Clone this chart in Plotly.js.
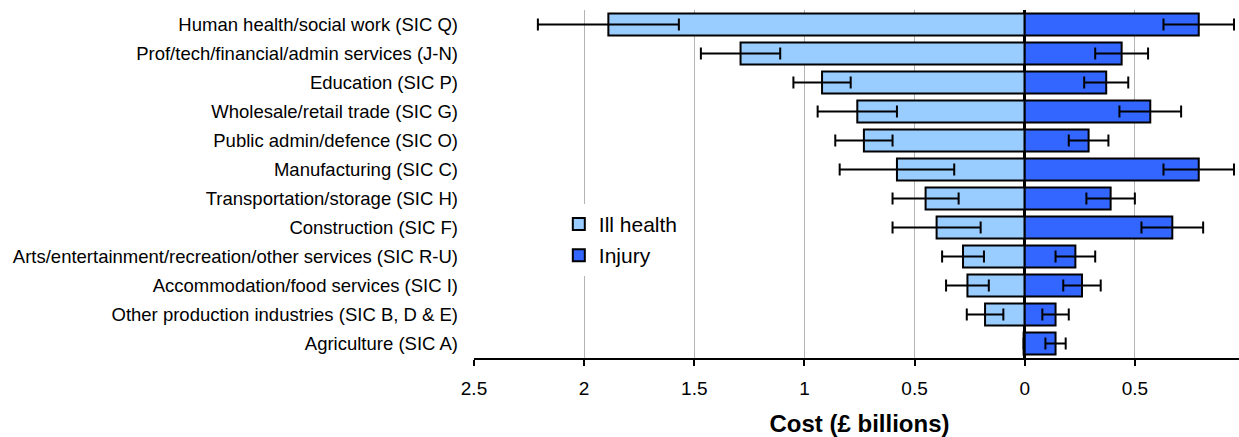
<!DOCTYPE html>
<html>
<head>
<meta charset="utf-8">
<script src="https://cdn.plot.ly/plotly-3.0.1.min.js"></script>
<style>
  html, body { margin: 0; padding: 0; background: #fff; overflow: hidden; }
  #chart { width: 1250px; height: 437px; }
</style>
</head>
<body>
<div id="chart"></div>
<script>
// Sectors, top to bottom
const categories = [
  "Human health/social work (SIC Q)",
  "Prof/tech/financial/admin services (J-N)",
  "Education (SIC P)",
  "Wholesale/retail trade (SIC G)",
  "Public admin/defence (SIC O)",
  "Manufacturing (SIC C)",
  "Transportation/storage (SIC H)",
  "Construction (SIC F)",
  "Arts/entertainment/recreation/other services (SIC R-U)",
  "Accommodation/food services (SIC I)",
  "Other production industries (SIC B, D & E)",
  "Agriculture (SIC A)"
];

// Cost of ill health (£ billions) and 95% interval half-widths
const illHealth    = [1.89, 1.29, 0.92, 0.76, 0.73, 0.58, 0.45, 0.40, 0.28, 0.26, 0.18, 0.005];
const illHealthErr = [0.32, 0.18, 0.13, 0.18, 0.13, 0.26, 0.15, 0.20, 0.095, 0.097, 0.083, 0];

// Cost of injury (£ billions) and 95% interval half-widths
const injury    = [0.79, 0.44, 0.37, 0.57, 0.29, 0.79, 0.39, 0.67, 0.23, 0.26, 0.14, 0.14];
const injuryErr = [0.16, 0.12, 0.10, 0.14, 0.09, 0.16, 0.11, 0.14, 0.09, 0.085, 0.06, 0.046];

// Axis ticks: ill health plotted to the left of zero, labelled by magnitude
const tickValues = [-2.5, -2, -1.5, -1, -0.5, 0, 0.5, 1];
const tickLabels = ["2.5", "2", "1.5", "1", "0.5", "0", "0.5", "1"];

const FONT = "Liberation Sans, Arial, sans-serif";

const errStyle = { type: "data", symmetric: true, color: "#000", thickness: 2, width: 6 };

const traces = [
  {
    type: "bar",
    orientation: "h",
    name: "Ill health",
    legendgroup: "ill",
    y: categories,
    x: illHealth.map(v => -v),
    error_x: Object.assign({ array: illHealthErr }, errStyle),
    marker: { color: "#99CCFF", line: { color: "#000", width: 2 } },
    hoverinfo: "skip"
  },
  {
    type: "bar",
    orientation: "h",
    name: "Injury",
    legendgroup: "inj",
    y: categories,
    x: injury,
    error_x: Object.assign({ array: injuryErr }, errStyle),
    marker: { color: "#3366FF", line: { color: "#000", width: 2 } },
    hoverinfo: "skip"
  }
];

const layout = {
  width: 1250,
  height: 437,
  margin: { l: 474, r: 5, t: 10, b: 79 },
  paper_bgcolor: "#fff",
  plot_bgcolor: "#fff",
  barmode: "overlay",
  bargap: 0.24,
  font: { family: FONT, color: "#000" },
  showlegend: true,
  legend: {
    x: 0.110, y: 0.443, xanchor: "left", yanchor: "top",
    bgcolor: "#fff",
    traceorder: "grouped",
    tracegroupgap: 1,
    font: { family: FONT, size: 21, color: "#000" }
  },
  xaxis: {
    range: [-2.5, 1],
    tickvals: tickValues,
    ticktext: tickLabels,
    tickfont: { family: FONT, size: 19, color: "#000" },
    ticks: "outside",
    ticklen: 6,
    tickwidth: 2,
    tickcolor: "#000",
    ticklabelstandoff: 6,
    showline: true,
    linecolor: "#000",
    linewidth: 2,
    showgrid: true,
    gridcolor: "#b4b4b4",
    gridwidth: 1,
    zeroline: true,
    zerolinecolor: "#000",
    zerolinewidth: 2.5,
    fixedrange: true,
    title: {
      text: "<b>Cost (£ billions)</b>",
      font: { family: FONT, size: 24, color: "#000" },
      standoff: 18
    }
  },
  yaxis: {
    type: "category",
    autorange: "reversed",
    showgrid: false,
    zeroline: false,
    showline: false,
    ticks: "",
    ticklabelstandoff: 15,
    tickfont: { family: FONT, size: 18.5, color: "#000" },
    fixedrange: true
  }
};

Plotly.newPlot("chart", traces, layout, { displayModeBar: false, staticPlot: true });
</script>
</body>
</html>
